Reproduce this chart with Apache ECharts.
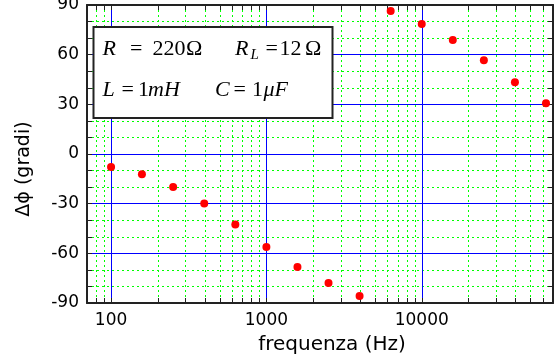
<!DOCTYPE html>
<html>
<head>
<meta charset="utf-8">
<script src="https://cdn.jsdelivr.net/npm/echarts@6/dist/echarts.min.js"></script>
<style>html,body{margin:0;padding:0;background:#fff}#c{width:556px;height:358px}</style>
</head>
<body>
<div id="c"></div>
<script>
// Data
const freqs = [100, 158, 251, 398, 631, 1000, 1585, 2512, 3981, 6310, 10000, 15849, 25119, 39811, 63096];
const phases = [-7.8, -12.2, -19.9, -29.9, -42.6, -56.1, -68.2, -77.9, -85.8, 86.4, 78.5, 68.8, 56.7, 43.3, 30.6];
const xTickLabels = [100, 1000, 10000];
const xMinorTicks = [80, 90, 200, 300, 400, 500, 600, 700, 800, 900,
  2000, 3000, 4000, 5000, 6000, 7000, 8000, 9000,
  20000, 30000, 40000, 50000, 60000];
const yTickLabels = [-90, -60, -30, 0, 30, 60, 90];
const xTitle = 'frequenza (Hz)';
const yTitle = 'Δϕ (gradi)';

const chart = echarts.init(document.getElementById('c'), null, {renderer: 'canvas'});
const frame = '#222';
const blue = '#0000ff';
const green = '#00ff00';
const tickFont = {fontFamily: 'DejaVu Sans', fontSize: 17, color: '#000'};

function xAxisCfg(pos, labels) {
  return {
    type: 'log', logBase: 10, min: 70, max: 70000, position: pos, gridIndex: 0,
    axisLine: {show: true, onZero: false, lineStyle: {color: frame, width: 2}},
    axisTick: {show: false},
    axisLabel: labels ? Object.assign({
      margin: 9, showMinLabel: false, showMaxLabel: false,
      formatter: v => xTickLabels.indexOf(Math.round(v)) >= 0 ? String(Math.round(v)) : ''
    }, tickFont) : {show: false},
    splitLine: {show: false},
    minorTick: {show: false}, minorSplitLine: {show: false}
  };
}
function yAxisCfg(pos, labels) {
  return {
    type: 'value', min: -90, max: 90, interval: 30, position: pos, gridIndex: 0,
    axisLine: {show: true, onZero: false, lineStyle: {color: frame, width: 2}},
    axisTick: {show: true, inside: true, length: 5, lineStyle: {color: frame}},
    minorTick: {show: true, splitNumber: 3, length: 5, lineStyle: {color: frame}},
    axisLabel: labels ? Object.assign({margin: 8,
      formatter: v => yTickLabels.indexOf(v) >= 0 ? String(v) : ''}, tickFont) : {show: false},
    splitLine: {show: labels, lineStyle: {color: blue, width: 1}},
    minorSplitLine: {show: labels, lineStyle: {color: green, width: 1, type: [2, 3]}}
  };
}

function vLines(values, isMajor) {
  return {
    type: 'custom', xAxisIndex: 0, yAxisIndex: 0, z: isMajor ? 2 : 1, silent: true,
    data: values.map(v => [v, 0]),
    encode: {x: 0, y: 1},
    renderItem: function (params, api) {
      const v = api.value(0);
      const top = api.coord([v, 90]);
      const bot = api.coord([v, -90]);
      const x = Math.round(top[0]) + 0.5;
      return {type: 'group', children: [
        {type: 'line', shape: {x1: x, y1: top[1], x2: x, y2: bot[1]},
          style: isMajor ? {stroke: blue, lineWidth: 1} : {stroke: green, lineWidth: 1, lineDash: [2, 3]}},
        {type: 'line', shape: {x1: x, y1: top[1], x2: x, y2: top[1] + 5},
          style: {stroke: frame, lineWidth: 1}},
        {type: 'line', shape: {x1: x, y1: bot[1], x2: x, y2: bot[1] - 5},
          style: {stroke: frame, lineWidth: 1}}
      ]};
    }
  };
}

const serif = 'Liberation Serif';
function t(str, x, y, italic, size) {
  return {type: 'text', x: x, y: y, z: 101,
    style: {text: str, font: (italic ? 'italic ' : '') + (size || 22) + 'px "' + serif + '"',
      fill: '#000', align: 'left', verticalAlign: 'middle'}};
}
const b1 = 49, b2 = 90;

chart.setOption({
  animation: false,
  grid: {left: 87, right: 3, top: 5, bottom: 55, containLabel: false, outerBoundsMode: 'none'},
  xAxis: [xAxisCfg('bottom', true), xAxisCfg('top', false)],
  yAxis: [yAxisCfg('left', true), yAxisCfg('right', false)],
  series: [
    vLines(xMinorTicks, false),
    vLines(xTickLabels, true),
    {
      type: 'scatter', xAxisIndex: 0, yAxisIndex: 0, z: 5,
      symbol: 'circle', symbolSize: 8,
      itemStyle: {color: '#ff0000', opacity: 1},
      data: freqs.map((f, i) => [f, phases[i]])
    }
  ],
  graphic: [
    {type: 'text', x: 332, y: 345, style: {text: xTitle, font: '20px "DejaVu Sans"', fill: '#000', align: 'center', verticalAlign: 'middle'}},
    {type: 'text', x: 24, y: 169, rotation: Math.PI / 2, style: {text: yTitle, font: '19px "DejaVu Sans"', fill: '#000', align: 'center', verticalAlign: 'middle'}},
    {type: 'rect', z: 100, shape: {x: 93.5, y: 27, width: 239, height: 91},
      style: {fill: '#fff', stroke: '#222', lineWidth: 2}},
    t('R', 102.5, b1, true),
    t('=', 130, b1, false),
    t('220', 152.5, b1, false),
    t('Ω', 186, b1, false),
    t('R', 235, b1, true),
    t('L', 250.5, b1 + 6, true, 15),
    t('=', 265.5, b1, false),
    t('12', 279.5, b1, false),
    t('Ω', 305, b1, false),
    t('L', 102.5, b2, true),
    t('=', 121.5, b2, false),
    t('1', 138, b2, false),
    t('mH', 148, b2, true),
    t('C', 215, b2, true),
    t('=', 233.5, b2, false),
    t('1', 252, b2, false),
    t('μF', 263.5, b2, true)
  ]
});
</script>
</body>
</html>
